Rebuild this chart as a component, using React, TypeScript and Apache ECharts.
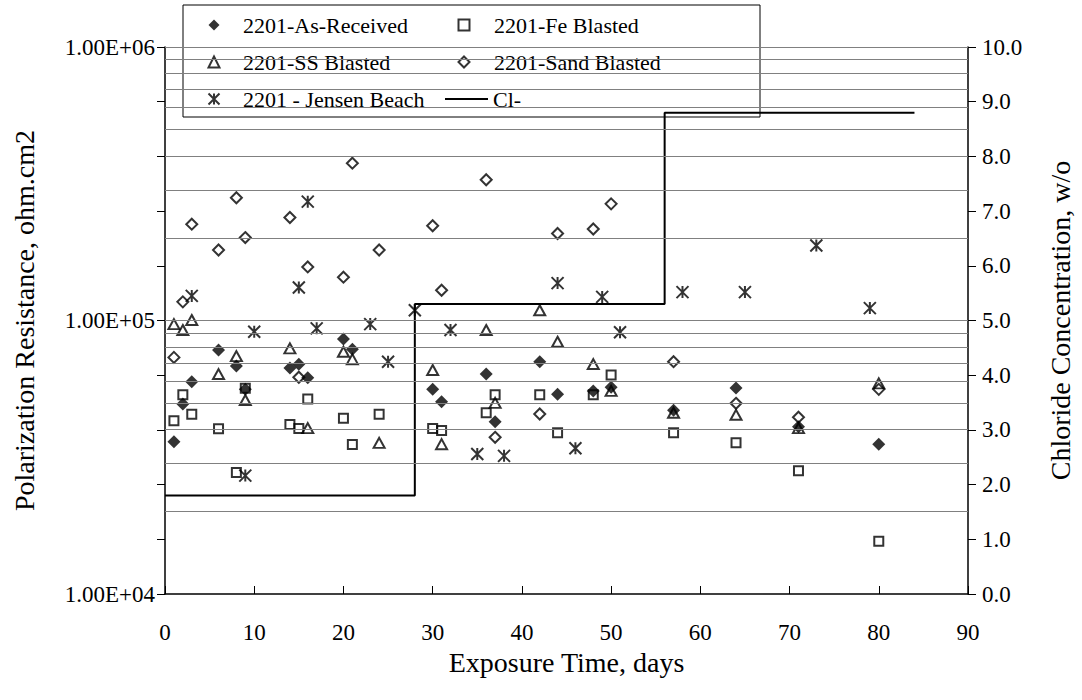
import React, { useEffect, useRef } from "react";
import * as echarts from "echarts";

const FONT = "'Liberation Serif', 'Times New Roman', serif";

// Exposure time (days) and polarization resistance (ohm.cm2)
const asReceivedDays = [1, 2, 3, 6, 8, 9, 14, 15, 16, 20, 21, 30, 31, 36, 37, 42, 44, 48, 50, 57, 64, 71, 80];
const asReceivedRp = [36000, 49500, 59700, 78000, 68200, 56000, 67100, 69200, 61800, 85500, 78500, 56000, 50500, 63700, 42600, 70700, 53800, 55200, 57000, 47000, 56700, 40900, 35300];

const feDays = [1, 2, 3, 6, 8, 9, 14, 15, 16, 20, 21, 24, 30, 31, 36, 37, 42, 44, 48, 50, 57, 64, 71, 80];
const feRp = [43000, 53500, 45400, 40200, 27800, 56500, 41700, 40300, 51600, 43900, 35200, 45400, 40300, 39600, 46000, 53500, 53500, 38900, 53500, 63200, 38900, 35700, 28200, 15600];

const ssDays = [1, 2, 3, 6, 8, 9, 14, 16, 20, 21, 24, 30, 31, 36, 37, 42, 44, 48, 50, 57, 64, 71, 80];
const ssRp = [97000, 92300, 100400, 63700, 74100, 51200, 79100, 40400, 76900, 72200, 35700, 65900, 35300, 92300, 50000, 109000, 83600, 69300, 55300, 46000, 45200, 40400, 58900];

const sandDays = [1, 2, 3, 6, 8, 9, 14, 15, 16, 20, 21, 24, 30, 31, 36, 37, 42, 44, 48, 50, 57, 64, 71, 80];
const sandRp = [73300, 117000, 225000, 181000, 281000, 201000, 238000, 62000, 157000, 144000, 376000, 181000, 222000, 129000, 327000, 37400, 45500, 208000, 216000, 267000, 70700, 49800, 44300, 56000];

const jensenDays = [3, 9, 10, 15, 16, 17, 23, 25, 28, 32, 35, 38, 44, 46, 49, 51, 58, 65, 73, 79];
const jensenRp = [123000, 27100, 91000, 132000, 272000, 93600, 97000, 70700, 109000, 92300, 32500, 32000, 137000, 34100, 122000, 90600, 127000, 127000, 188000, 111000];

// Chloride concentration (w/o), step profile
const clDays = [0, 28, 28, 56, 56, 84];
const clConc = [1.8, 1.8, 5.3, 5.3, 8.8, 8.8];

// Tick labels
const leftTickLabels = ["1.00E+04", "1.00E+05", "1.00E+06"];
const rightTickLabels = ["0.0", "1.0", "2.0", "3.0", "4.0", "5.0", "6.0", "7.0", "8.0", "9.0", "10.0"];
const gridValues = [
  20000, 30000, 40000, 50000, 60000, 70000, 80000, 90000, 100000,
  200000, 300000, 400000, 500000, 600000, 700000, 800000, 900000, 1000000,
];

const seriesNames = {
  as: "2201-As-Received",
  fe: "2201-Fe Blasted",
  ss: "2201-SS Blasted",
  sand: "2201-Sand Blasted",
  jensen: "2201 - Jensen Beach",
  cl: "Cl-",
};

const ASTERISK = "path://M0 0 L10 10 M0 10 L10 0 M5 0 L5 10";

function zip(xs: number[], ys: number[]) {
  return xs.map((x, i) => [x, ys[i]]);
}

const legendText = { fontFamily: FONT, fontSize: 22, color: "#000", lineHeight: 24 };

export default function App() {
  const ref = useRef<HTMLDivElement>(null);
  useEffect(() => {
    if (!ref.current) return;
    const chart = echarts.init(ref.current, undefined, { renderer: "svg" });
    const hollow = "rgba(0,0,0,0)";
    const option: any = {
      animation: false,
      textStyle: { fontFamily: FONT, color: "#000" },
      grid: { left: 165, right: 109, top: 47, bottom: 106, containLabel: false },
      legend: [
        {
          data: [seriesNames.as, seriesNames.ss, seriesNames.jensen],
          orient: "vertical",
          left: 207.5,
          top: 13,
          padding: 0,
          itemWidth: 11,
          itemHeight: 11,
          itemGap: 13,
          selectedMode: false,
          textStyle: { ...legendText, padding: [0, 0, 0, 18.5] },
        },
        {
          data: [seriesNames.fe, seriesNames.sand],
          orient: "vertical",
          left: 457.5,
          top: 13,
          padding: 0,
          itemWidth: 11,
          itemHeight: 11,
          itemGap: 13,
          selectedMode: false,
          textStyle: { ...legendText, padding: [0, 0, 0, 19.5] },
        },
        {
          data: [{ name: seriesNames.cl, icon: "rect" }],
          orient: "vertical",
          left: 445,
          top: 87,
          padding: 0,
          itemWidth: 43,
          itemHeight: 2,
          selectedMode: false,
          textStyle: legendText,
        },
      ],
      graphic: [
        {
          type: "rect",
          z: 3,
          shape: { x: 183, y: 5, width: 577, height: 112 },
          style: { fill: "#fff", stroke: "#000", lineWidth: 1 },
          silent: true,
        },
      ],
      xAxis: {
        type: "value",
        min: 0,
        max: 90,
        interval: 10,
        name: "Exposure Time, days",
        nameLocation: "middle",
        nameGap: 53,
        nameTextStyle: { fontFamily: FONT, fontSize: 28, color: "#000" },
        axisLine: { show: true, onZero: false, lineStyle: { color: "#000", width: 1.5 } },
        axisTick: { show: true, inside: true, length: 8, lineStyle: { color: "#000", width: 1 } },
        axisLabel: { fontFamily: FONT, fontSize: 23, color: "#000", margin: 27 },
        splitLine: { show: false },
      },
      yAxis: [
        {
          type: "log",
          logBase: 10,
          min: 10000,
          max: 1000000,
          position: "left",
          name: "Polarization Resistance, ohm.cm2",
          nameLocation: "middle",
          nameRotate: 90,
          nameGap: 127,
          nameTextStyle: { fontFamily: FONT, fontSize: 28, color: "#000" },
          axisLine: { show: true, onZero: false, lineStyle: { color: "#000", width: 1.5 } },
          axisTick: { show: true, length: 5, lineStyle: { color: "#000" } },
          axisLabel: {
            fontFamily: FONT,
            fontSize: 23,
            color: "#000",
            margin: 10,
            formatter: (v: number) => leftTickLabels[Math.round(Math.log10(v)) - 4] ?? "",
          },
          splitLine: { show: false },
          minorTick: { show: false },
        },
        {
          type: "value",
          min: 0,
          max: 10,
          interval: 1,
          position: "right",
          name: "Chloride Concentration, w/o",
          nameLocation: "middle",
          nameRotate: 90,
          nameGap: 78,
          nameTextStyle: { fontFamily: FONT, fontSize: 28, color: "#000" },
          axisLine: { show: true, onZero: false, lineStyle: { color: "#000", width: 1.5 } },
          axisTick: { show: true, length: 8, lineStyle: { color: "#000" } },
          axisLabel: {
            fontFamily: FONT,
            fontSize: 23,
            color: "#000",
            margin: 14,
            formatter: (v: number) => rightTickLabels[Math.round(v)] ?? "",
          },
          splitLine: { show: false },
        },
        {
          type: "value",
          min: 0,
          max: 10,
          interval: 1,
          position: "right",
          axisLine: { show: false },
          axisTick: { show: true, inside: true, length: 8, lineStyle: { color: "#000" } },
          axisLabel: { show: false },
          splitLine: { show: false },
        },
      ],
      series: [
        {
          type: "scatter",
          data: [],
          yAxisIndex: 0,
          z: 1,
          silent: true,
          markLine: {
            silent: true,
            symbol: ["none", "none"],
            label: { show: false },
            emphasis: { disabled: true },
            lineStyle: { color: "#808080", width: 1, type: "solid" },
            data: gridValues.map((v) => ({ yAxis: v })),
          },
        },
        {
          name: seriesNames.as,
          type: "scatter",
          yAxisIndex: 0,
          symbol: "diamond",
          symbolSize: 13,
          itemStyle: { color: "#000", borderColor: "#000", borderWidth: 0 },
          data: zip(asReceivedDays, asReceivedRp),
        },
        {
          name: seriesNames.fe,
          type: "scatter",
          yAxisIndex: 0,
          symbol: "rect",
          symbolSize: 9,
          itemStyle: { color: hollow, borderColor: "#000", borderWidth: 2 },
          data: zip(feDays, feRp),
        },
        {
          name: seriesNames.ss,
          type: "scatter",
          yAxisIndex: 0,
          symbol: "triangle",
          symbolSize: [11, 10],
          itemStyle: { color: hollow, borderColor: "#000", borderWidth: 2 },
          data: zip(ssDays, ssRp),
        },
        {
          name: seriesNames.sand,
          type: "scatter",
          yAxisIndex: 0,
          symbol: "diamond",
          symbolSize: 11,
          itemStyle: { color: hollow, borderColor: "#000", borderWidth: 2 },
          data: zip(sandDays, sandRp),
        },
        {
          name: seriesNames.jensen,
          type: "scatter",
          yAxisIndex: 0,
          symbol: ASTERISK,
          symbolSize: 12,
          itemStyle: { color: hollow, borderColor: "#000", borderWidth: 2 },
          data: zip(jensenDays, jensenRp),
        },
        {
          name: seriesNames.cl,
          type: "line",
          yAxisIndex: 1,
          symbol: "none",
          showSymbol: false,
          lineStyle: { color: "#000", width: 2 },
          itemStyle: { color: "#000" },
          data: zip(clDays, clConc),
        },
      ],
    };
    chart.setOption(option);
    return () => chart.dispose();
  }, []);
  return (
    <div
      ref={ref}
      style={{ position: "fixed", left: 0, top: 0, width: 1082, height: 700, background: "#fff" }}
    />
  );
}
